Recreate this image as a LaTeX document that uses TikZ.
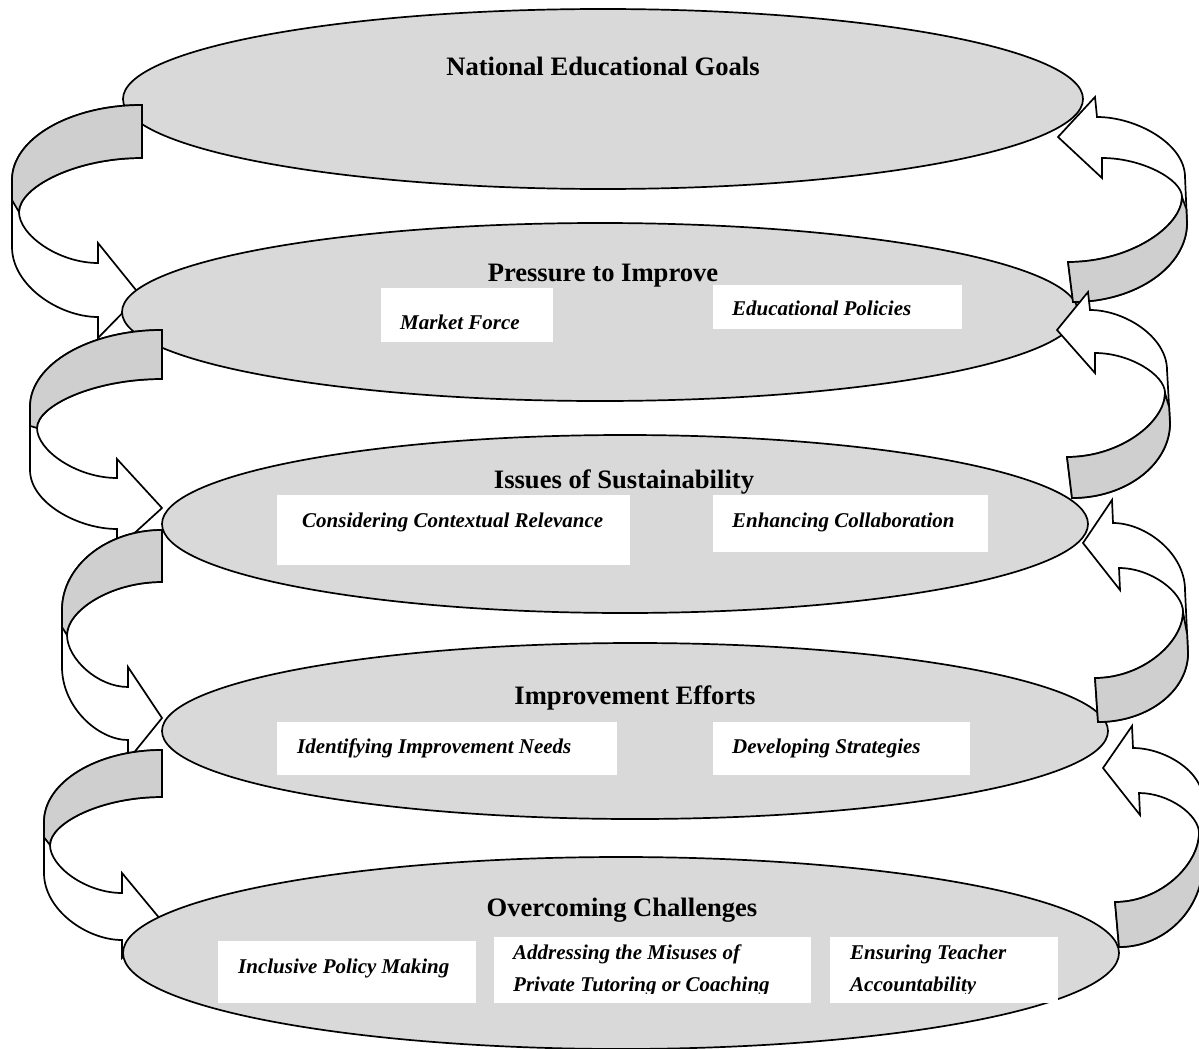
\documentclass[tikz,border=0pt]{standalone}
\usepackage{fontspec}
\setmainfont{Liberation Serif}
\usetikzlibrary{shapes.geometric,calc}
\definecolor{ellcol}{HTML}{D9D9D9}
\definecolor{ribcol}{HTML}{CFCFCF}
\newcommand{\ribbonarrow}[1]{%
  \coordinate (#1k1) at (#1O1|-#1T1);
  \coordinate (#1k2) at (#1O2|-#1S2);
  \coordinate (#1k3) at (#1C|-#1S1);
  \coordinate (#1k4) at (#1C|-#1T2);
  \coordinate (#1tw) at ($(#1O1)!0.3!(#1O2)$);
  \draw[ribwhite] (#1T1) .. controls ($(#1T1)!0.552!(#1k1)$) and ($(#1O1)!0.552!(#1k1)$) .. (#1O1)
     -- (#1O2) .. controls ($(#1O2)!0.552!(#1k2)$) and ($(#1S2)!0.45!(#1k2)$) .. (#1S2)
     -- (#1B2) -- (#1P) -- (#1B1) -- (#1S1)
     .. controls ($(#1S1)!0.5!(#1k3)$) and ($(#1C)!0.45!(#1k3)$) .. (#1C)
     .. controls ($(#1C)!0.45!(#1k4)$) and ($(#1T2)!0.55!(#1k4)$) .. (#1T2) -- cycle;
  \draw[ribshade] (#1T1) .. controls ($(#1T1)!0.552!(#1k1)$) and ($(#1O1)!0.552!(#1k1)$) .. (#1O1)
     -- (#1tw) -- (#1C)
     .. controls ($(#1C)!0.45!(#1k4)$) and ($(#1T2)!0.55!(#1k4)$) .. (#1T2) -- cycle;
}
\tikzset{
  ell/.style={ellipse, draw, line width=1.7pt, fill=ellcol, inner sep=0pt},
  ribwhite/.style={draw, line width=1.7pt, fill=white, line join=miter},
  ribshade/.style={draw, line width=1.7pt, fill=ribcol, line join=miter},
  wbox/.style={fill=white, inner sep=0pt, anchor=north west},
  ttl/.style={font=\bfseries\fontsize{26.6}{30}\selectfont, anchor=base, inner sep=0pt},
  sub/.style={font=\bfseries\itshape\fontsize{21}{33}\selectfont, anchor=base west, inner sep=0pt},
}
\begin{document}
\begin{tikzpicture}[x=1pt,y=-1pt]
\useasboundingbox[fill=white] (0,0) rectangle (1199,1049);

% ---- arrow key points
% L1
\coordinate (L1T1) at (142,105); \coordinate (L1T2) at (142,158);
\coordinate (L1O1) at (12,180);  \coordinate (L1O2) at (12,247);
\coordinate (L1S2) at (98,317);  \coordinate (L1B2) at (98,338);
\coordinate (L1P) at (140,295);  \coordinate (L1B1) at (98,243);
\coordinate (L1S1) at (98,263);  \coordinate (L1C) at (19,212);
% L2
\coordinate (L2T1) at (162,330); \coordinate (L2T2) at (162,379);
\coordinate (L2O1) at (30,407);  \coordinate (L2O2) at (30,470);
\coordinate (L2S2) at (117,529); \coordinate (L2B2) at (117,549);
\coordinate (L2P) at (162,508);  \coordinate (L2B1) at (117,459);
\coordinate (L2S1) at (117,478); \coordinate (L2C) at (37,428);
% L3
\coordinate (L3T1) at (162,530); \coordinate (L3T2) at (162,582);
\coordinate (L3O1) at (62,610);  \coordinate (L3O2) at (62,667);
\coordinate (L3S2) at (128,740); \coordinate (L3B2) at (128,760);
\coordinate (L3P) at (162,718);  \coordinate (L3B1) at (128,667);
\coordinate (L3S1) at (128,687); \coordinate (L3C) at (67,635);
% L4
\coordinate (L4T1) at (162,750); \coordinate (L4T2) at (162,797);
\coordinate (L4O1) at (44,822);  \coordinate (L4O2) at (44,873);
\coordinate (L4S2) at (122,940); \coordinate (L4B2) at (122,958);
\coordinate (L4P) at (161,920);  \coordinate (L4B1) at (122,873);
\coordinate (L4S1) at (122,893); \coordinate (L4C) at (50,845);
% R1
\coordinate (R1T1) at (1073,302); \coordinate (R1T2) at (1068,262);
\coordinate (R1O1) at (1187,223); \coordinate (R1O2) at (1185,177);
\coordinate (R1S2) at (1097,117); \coordinate (R1B2) at (1095,97);
\coordinate (R1P) at (1058,137);  \coordinate (R1B1) at (1102,178);
\coordinate (R1S1) at (1102,158); \coordinate (R1C) at (1182,197);
% R2
\coordinate (R2T1) at (1072,498); \coordinate (R2T2) at (1067,457);
\coordinate (R2O1) at (1170,423); \coordinate (R2O2) at (1167,370);
\coordinate (R2S2) at (1090,310); \coordinate (R2B2) at (1088,292);
\coordinate (R2P) at (1057,330);  \coordinate (R2B1) at (1095,373);
\coordinate (R2S1) at (1095,353); \coordinate (R2C) at (1165,393);
% R3
\coordinate (R3T1) at (1098,722); \coordinate (R3T2) at (1095,678);
\coordinate (R3O1) at (1188,653); \coordinate (R3O2) at (1185,590);
\coordinate (R3S2) at (1113,523); \coordinate (R3B2) at (1112,500);
\coordinate (R3P) at (1083,543);  \coordinate (R3B1) at (1120,590);
\coordinate (R3S1) at (1119,568); \coordinate (R3C) at (1183,612);
% R4
\coordinate (R4T1) at (1119,947); \coordinate (R4T2) at (1115,902);
\coordinate (R4O1) at (1203,862); \coordinate (R4O2) at (1203,800);
\coordinate (R4S2) at (1133,748); \coordinate (R4B2) at (1132,726);
\coordinate (R4P) at (1103,768);  \coordinate (R4B1) at (1140,815);
\coordinate (R4S1) at (1139,793); \coordinate (R4C) at (1199,833);

% ---- Level 1
\node[ell, minimum width=960pt, minimum height=180pt] (e1) at (603,99) {};
\node[ttl] (t1) at (603,76) {National Educational Goals};
\ribbonarrow{L1}

% ---- Level 2
\node[ell, minimum width=956pt, minimum height=178pt] (e2) at (600,312) {};
\node[ttl] (t2) at (603,281) {Pressure to Improve};
\node[wbox, minimum width=172pt, minimum height=54pt] (b21) at (381,288) {};
\node[sub] (s21) at (400,329) {Market Force};
\node[wbox, minimum width=249pt, minimum height=44pt] (b22) at (713,285) {};
\node[sub] (s22) at (732,315) {Educational Policies};
\ribbonarrow{R1}
\ribbonarrow{L2}

% ---- Level 3
\node[ell, minimum width=926pt, minimum height=178pt] (e3) at (625,524) {};
\node[ttl] (t3) at (624,488) {Issues of Sustainability};
\node[wbox, minimum width=353pt, minimum height=70pt] (b31) at (277,495) {};
\node[sub] (s31) at (302,527) {Considering Contextual Relevance};
\node[wbox, minimum width=275pt, minimum height=57pt] (b32) at (713,495) {};
\node[sub] (s32) at (732,527) {Enhancing Collaboration};
\ribbonarrow{R2}
\ribbonarrow{L3}

% ---- Level 4
\node[ell, minimum width=946pt, minimum height=176pt] (e4) at (635,731) {};
\node[ttl] (t4) at (635,704) {Improvement Efforts};
\node[wbox, minimum width=340pt, minimum height=53pt] (b41) at (277,722) {};
\node[sub] (s41) at (297,753) {Identifying Improvement Needs};
\node[wbox, minimum width=257pt, minimum height=53pt] (b42) at (713,722) {};
\node[sub] (s42) at (732,753) {Developing Strategies};
\ribbonarrow{R3}
\ribbonarrow{L4}

% ---- Level 5
\node[ell, minimum width=996pt, minimum height=192pt] (e5) at (621,953) {};
\node[ttl] (t5) at (622,916) {Overcoming Challenges};
\node[wbox, minimum width=258pt, minimum height=62pt] (b51) at (218,941) {};
\node[sub] (s51) at (238,973) {Inclusive Policy Making};
\node[wbox, minimum width=317pt, minimum height=66pt] (b52) at (494,937) {};
\node[wbox, minimum width=228pt, minimum height=66pt] (b53) at (830,937) {};
\begin{scope}
  \clip (494,937) rectangle (811,993);
  \node[sub] (s52a) at (513,959) {Addressing the Misuses of};
  \node[sub] (s52b) at (513,991) {Private Tutoring or Coaching};
\end{scope}
\begin{scope}
  \clip (830,937) rectangle (1058,993);
  \node[sub] (s53a) at (850,959) {Ensuring Teacher};
  \node[sub] (s53b) at (850,991) {Accountability};
\end{scope}
\ribbonarrow{R4}
\end{tikzpicture}
\end{document}
